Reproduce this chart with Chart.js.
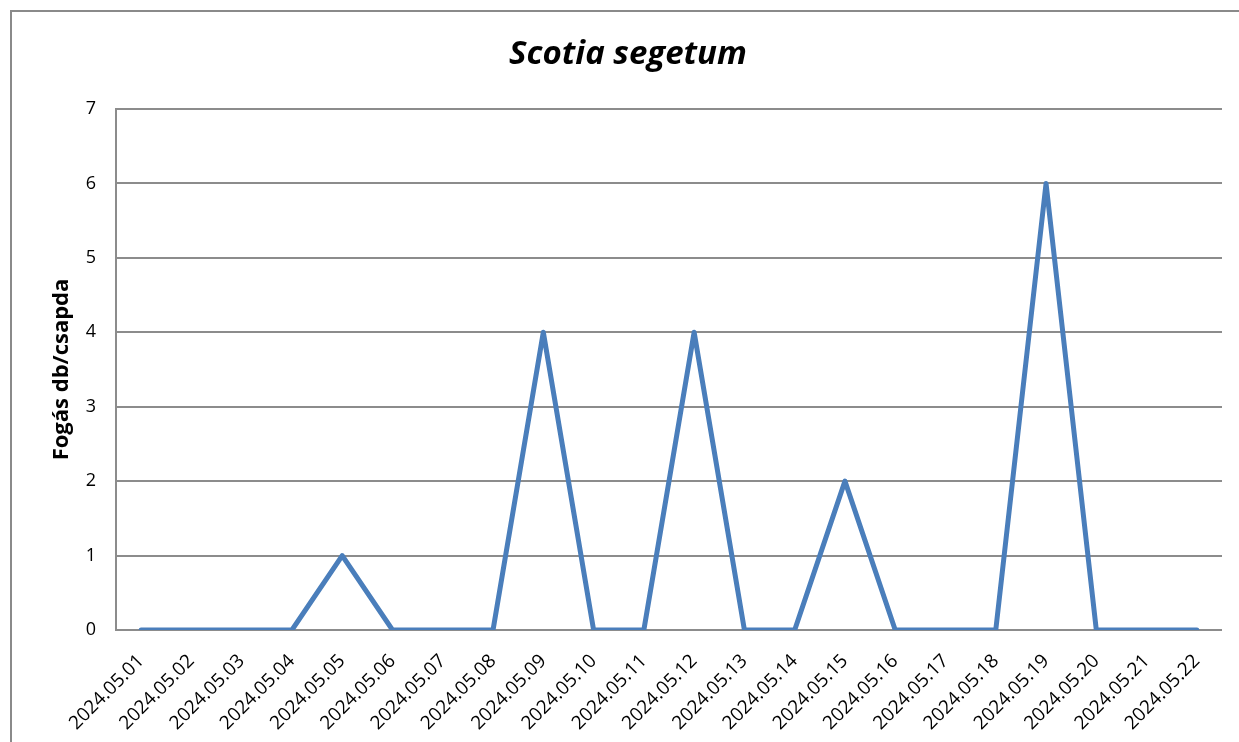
<!DOCTYPE html>
<html>
<head>
<meta charset="utf-8">
<script src="https://cdn.jsdelivr.net/npm/chart.js@4/dist/chart.umd.min.js"></script>
<style>
    html, body { margin: 0; padding: 0; background: #fff; overflow: hidden; }
    #wrap { position: absolute; left: 0; top: 0; width: 1239px; height: 742px; }
    #frame { position: absolute; left: 10px; top: 10px; width: 1260px; height: 760px; border: 2px solid #8a8a8a; pointer-events: none; }
</style>
</head>
<body>
<div id="wrap"><canvas id="chart" width="1239" height="742"></canvas></div>
<div id="frame"></div>
<script>
// Datos
const categories = ['2024.05.01', '2024.05.02', '2024.05.03', '2024.05.04', '2024.05.05', '2024.05.06',
    '2024.05.07', '2024.05.08', '2024.05.09', '2024.05.10', '2024.05.11', '2024.05.12', '2024.05.13',
    '2024.05.14', '2024.05.15', '2024.05.16', '2024.05.17', '2024.05.18', '2024.05.19', '2024.05.20',
    '2024.05.21', '2024.05.22'];
const catches = [0, 0, 0, 0, 1, 0, 0, 0, 4, 0, 0, 4, 0, 0, 2, 0, 0, 0, 6, 0, 0, 0];
const yTicks = [0, 1, 2, 3, 4, 5, 6, 7];
const chartTitle = 'Scotia segetum';

const FONT = "'Open Sans', 'Noto Sans', sans-serif";

// título dibujado a mano para poder centrarlo como en el original
const titlePlugin = {
    id: 'tituloCentrado',
    afterDraw(chart) {
        const c = chart.ctx;
        c.save();
        c.font = `italic bold 33px ${FONT}`;
        c.fillStyle = '#000';
        c.textAlign = 'center';
        c.textBaseline = 'middle';
        c.fillText(chartTitle, 628, 55);
        c.restore();
    }
};

new Chart(document.getElementById('chart'), {
    type: 'line',
    data: {
        labels: categories,
        datasets: [{
            label: chartTitle,
            data: catches,
            borderColor: '#4a7ebb',
            borderWidth: 5,
            borderCapStyle: 'round',
            borderJoinStyle: 'round',
            pointRadius: 0,
            tension: 0,
            fill: false
        }]
    },
    plugins: [titlePlugin],
    options: {
        responsive: false,
        animation: false,
        layout: { padding: { left: 0, right: 17, top: 109, bottom: 0 } },
        plugins: {
            legend: { display: false },
            tooltip: { enabled: false },
            title: { display: false }
        },
        scales: {
            x: {
                offset: true,
                grid: { display: false, drawTicks: false },
                border: { display: false },
                ticks: {
                    color: '#000',
                    font: { family: FONT, size: 19 },
                    maxRotation: 45,
                    minRotation: 45,
                    autoSkip: false,
                    padding: 20
                },
                afterFit(scale) { scale.height = 112; }
            },
            y: {
                min: 0,
                max: 7,
                afterBuildTicks(scale) { scale.ticks = yTicks.map(v => ({ value: v })); },
                grid: { color: '#8c8c8c', lineWidth: 2, drawTicks: false },
                border: { display: true, color: '#8c8c8c', width: 2 },
                ticks: {
                    color: '#000',
                    font: { family: FONT, size: 18 },
                    padding: 20
                },
                title: {
                    display: true,
                    text: 'Fogás db/csapda',
                    color: '#000',
                    font: { family: FONT, size: 22, weight: 'bold', lineHeight: 1.2 },
                    padding: { top: 49, bottom: 0 }
                },
                afterFit(scale) { scale.width = 116; }
            }
        }
    }
});
</script>
</body>
</html>
